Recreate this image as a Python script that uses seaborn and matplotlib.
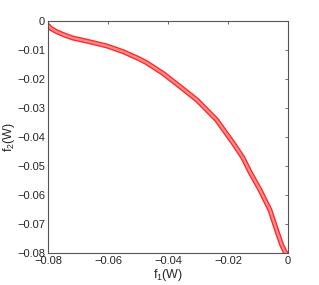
import pandas as pd
import seaborn as sns
import matplotlib
matplotlib.use("Agg")
import matplotlib.pyplot as plt

# Pareto front
f1 = [-0.0800, -0.0790, -0.0771, -0.0744, -0.0716, -0.0660, -0.0604, -0.0549,
      -0.0499, -0.0471, -0.0416, -0.0360, -0.0304, -0.0238, -0.0182, -0.0150,
      -0.0127, -0.0093, -0.0060, -0.0038, -0.0021, -0.0010, -0.0006]
f2 = [-0.0015, -0.0026, -0.0037, -0.0049, -0.0059, -0.0072, -0.0086, -0.0106,
      -0.0129, -0.0144, -0.0181, -0.0226, -0.0272, -0.0341, -0.0422, -0.0472,
      -0.0520, -0.0583, -0.0652, -0.0721, -0.0772, -0.0796, -0.0800]

xticks = [-0.08, -0.06, -0.04, -0.02, 0]
yticks = [-0.08, -0.07, -0.06, -0.05, -0.04, -0.03, -0.02, -0.01, 0]

df = pd.DataFrame({"f1": f1, "f2": f2})

sns.set_style("white")
plt.rcParams['font.family'] = ['Liberation Sans', 'DejaVu Sans']
plt.rcParams['mathtext.default'] = 'regular'

fig = plt.figure(figsize=(3.19, 2.85), dpi=100)
ax = fig.add_axes([48 / 319, 32 / 285, 240 / 319, 232 / 285])

# red band with a lighter core, like overlapping hollow circles
sns.lineplot(data=df, x="f1", y="f2", color="#ff2a2a", linewidth=3.6,
             sort=False, ax=ax, solid_joinstyle="round", solid_capstyle="round")
sns.lineplot(data=df, x="f1", y="f2", color="#ff8c8c", linewidth=1.6,
             sort=False, ax=ax, solid_joinstyle="round")

ax.set_xlim(-0.08, 0)
ax.set_ylim(-0.08, 0)
ax.set_xticks(xticks)
ax.set_yticks(yticks)
ax.set_xticklabels([f"{t:g}".replace("-", "\u2212") for t in xticks])
ax.set_yticklabels([f"{t:g}".replace("-", "\u2212") for t in yticks])
ax.tick_params(direction="in", length=2.5, width=0.6, color="#555555",
               top=True, right=True, labelsize=8, pad=2)
for s in ax.spines.values():
    s.set_color("#555555")
    s.set_linewidth(0.8)

ax.set_xlabel("f$_1$(W)", fontsize=9, labelpad=1)
ax.set_ylabel("f$_2$(W)", fontsize=9, labelpad=0)

fig.savefig("out.png", dpi=100)
